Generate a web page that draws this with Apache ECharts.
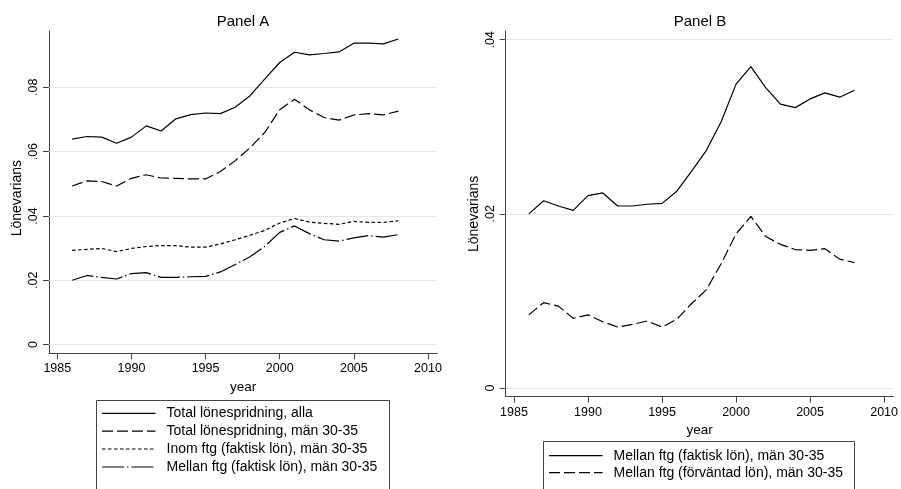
<!DOCTYPE html>
<html><head><meta charset="utf-8">
<script src="https://cdn.jsdelivr.net/npm/echarts@6/dist/echarts.min.js"></script>
<style>html,body{margin:0;padding:0;background:#fff}#c{width:901px;height:489px}</style>
</head><body><div id="c"></div>
<script>
const years = [1986,1987,1988,1989,1990,1991,1992,1993,1994,1995,1996,1997,1998,1999,2000,2001,2002,2003,2004,2005,2006,2007,2008];
const totalAlla = [0.0639,0.0647,0.0645,0.0626,0.0645,0.0680,0.0664,0.0702,0.0715,0.0720,0.0718,0.0738,0.0774,0.0826,0.0877,0.0909,0.0901,0.0905,0.0910,0.0937,0.0937,0.0935,0.0950];
const totalMan = [0.0493,0.0509,0.0507,0.0493,0.0517,0.0528,0.0518,0.0517,0.0515,0.0515,0.0538,0.0572,0.0612,0.0660,0.0730,0.0763,0.0730,0.0706,0.0698,0.0714,0.0718,0.0714,0.0726];
const inomFaktisk = [0.0293,0.0296,0.0299,0.0289,0.0299,0.0305,0.0308,0.0308,0.0303,0.0303,0.0313,0.0326,0.0340,0.0355,0.0378,0.0392,0.0381,0.0377,0.0374,0.0383,0.0380,0.0380,0.0385];
const mellanFaktisk = [0.0200,0.0215,0.0209,0.0204,0.0221,0.0224,0.0209,0.0209,0.0211,0.0212,0.0226,0.0249,0.0273,0.0306,0.0349,0.0369,0.0345,0.0326,0.0322,0.0332,0.0339,0.0334,0.0342];
const mellanForvantad = [0.0084,0.0098,0.0094,0.0080,0.0084,0.0076,0.0070,0.0073,0.0077,0.0070,0.0079,0.0097,0.0113,0.0143,0.0177,0.0197,0.0174,0.0165,0.0159,0.0158,0.0160,0.0148,0.0144];
const xTicks = [1985,1990,1995,2000,2005,2010];
const yTicksA = [0,0.02,0.04,0.06,0.08];
const yTicksB = [0,0.02,0.04];
const panelTitles = ['Panel A','Panel B'];
const xName = 'year';
const yName = 'Lönevarians';
const legendA = ['Total lönespridning, alla','Total lönespridning, män 30-35','Inom ftg (faktisk lön), män 30-35','Mellan ftg (faktisk lön), män 30-35'];
const legendB = ['Mellan ftg (faktisk lön), män 30-35','Mellan ftg (förväntad lön), män 30-35'];

const FONT = '"Liberation Sans", Arial, sans-serif';
const AX = '#444';
const dashes = { solid: 'solid', long: [11,4], short: [3.5,2.5], dashdot: [22,3,1.5,3] };
const pair = arr => years.map((y,i)=>[y,arr[i]]);
const fmt = v => v === 0 ? '0' : String(+v.toFixed(4)).replace(/^0/, '');
const fmtYear = v => String(Math.round(v));

function xAxis(gi){
  return { gridIndex: gi, type: 'value', min: 1984.44, max: 2010.63,
    axisLine: { show: true, onZero: false, lineStyle: { color: AX, width: 1 } },
    axisTick: { show: true, customValues: xTicks, length: 6, lineStyle: { color: AX } },
    axisLabel: { customValues: xTicks, fontSize: 12.5, color: '#000', margin: 9, fontFamily: FONT, formatter: fmtYear },
    splitLine: { show: false },
    name: xName, nameLocation: 'middle', nameGap: 25,
    nameTextStyle: { fontSize: 13.5, color: '#000', fontFamily: FONT } };
}
function yAxis(gi, min, max, ticks, shift){
  return { gridIndex: gi, type: 'value', min: min, max: max,
    axisLine: { show: true, onZero: false, lineStyle: { color: AX, width: 1 } },
    axisTick: { show: true, customValues: ticks, length: 6, lineStyle: { color: AX } },
    axisLabel: { customValues: ticks, rotate: 90, fontSize: 12.5, color: '#000', margin: 9, fontFamily: FONT, formatter: fmt },
    splitLine: { show: false },
    name: yName, nameLocation: 'middle', nameGap: 25, nameRotate: 90,
    nameTextStyle: { fontSize: 14, color: '#000', fontFamily: FONT, padding: shift } };
}
function gridSeries(xi, ticks){
  return { type: 'line', xAxisIndex: xi, yAxisIndex: xi, data: [], silent: true, z: 1,
    markLine: { z: 1, silent: true, symbol: ['none','none'], animation: false, label: { show: false },
      lineStyle: { color: '#e6e6e6', type: 'solid', width: 1 },
      data: ticks.map(v => ({ yAxis: v })) } };
}
function line(xi, name, arr, type){
  return { type: 'line', name: name, xAxisIndex: xi, yAxisIndex: xi, data: pair(arr), z: 3,
    symbol: 'none', animation: false, lineStyle: { color: '#000', width: 1.2, type: type } };
}

const graphics = [];
function legendBox(x, y, w, names, types, rowY){
  graphics.push({ type: 'rect', shape: { x: x, y: y, width: w, height: 120 }, style: { fill: '#fff', stroke: AX, lineWidth: 1 }, z: 10 });
  names.forEach((n, i) => {
    graphics.push({ type: 'line', shape: { x1: x + 5.5, y1: rowY[i], x2: x + 59, y2: rowY[i] },
      style: { stroke: '#000', lineWidth: 1.2, lineDash: types[i] === 'solid' ? null : types[i] }, z: 11 });
    graphics.push({ type: 'text', x: x + 70, y: rowY[i], style: { text: n, fontSize: 14, fill: '#000', fontFamily: FONT, verticalAlign: 'middle', align: 'left' }, z: 11 });
  });
}
legendBox(96.5, 400.5, 293, legendA, [dashes.solid, dashes.long, dashes.short, dashes.dashdot], [413.3, 431.2, 449, 467]);
legendBox(543.5, 441.5, 311, legendB, [dashes.solid, dashes.long], [455.7, 472.7]);

const chart = echarts.init(document.getElementById('c'), null, { renderer: 'canvas' });
chart.setOption({
  animation: false,
  backgroundColor: '#fff',
  textStyle: { fontFamily: FONT },
  title: [
    { text: panelTitles[0], left: 243, top: 14, textAlign: 'center', padding: 0, textStyle: { fontSize: 15, fontWeight: 'normal', color: '#000', fontFamily: FONT } },
    { text: panelTitles[1], left: 700, top: 14, textAlign: 'center', padding: 0, textStyle: { fontSize: 15, fontWeight: 'normal', color: '#000', fontFamily: FONT } }
  ],
  grid: [
    { left: 49, top: 31, width: 388.3, height: 322.3 },
    { left: 505.7, top: 31, width: 388.6, height: 365.7 }
  ],
  xAxis: [ xAxis(0), xAxis(1) ],
  yAxis: [ yAxis(0, -0.0027, 0.0975, yTicksA, [0, 12, 0, 0]), yAxis(1, -0.001, 0.041, yTicksB, 0) ],
  series: [
    gridSeries(0, yTicksA), gridSeries(1, yTicksB),
    line(0, legendA[0], totalAlla, dashes.solid),
    line(0, legendA[1], totalMan, dashes.long),
    line(0, legendA[2], inomFaktisk, dashes.short),
    line(0, legendA[3], mellanFaktisk, dashes.dashdot),
    line(1, legendB[0], mellanFaktisk, dashes.solid),
    line(1, legendB[1], mellanForvantad, dashes.long)
  ],
  graphic: graphics
});
</script></body></html>
